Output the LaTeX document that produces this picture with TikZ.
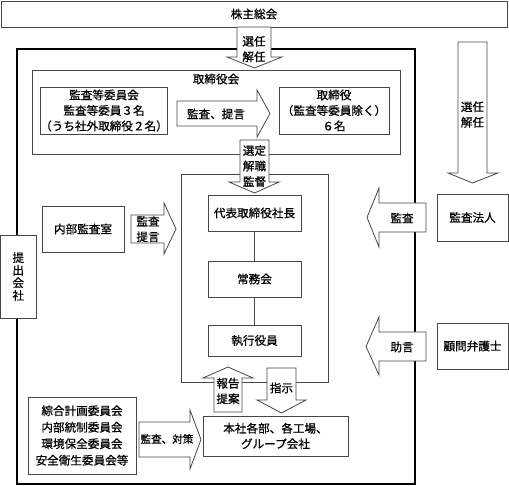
\documentclass[tikz,border=0pt]{standalone}
\usepackage{fontspec}
\setmainfont{Noto Sans CJK JP}[FakeBold=0.7]
\begin{document}
\begin{tikzpicture}[x=1pt,y=-1pt,
  every node/.style={font=\fontsize{11.6}{15.5}\selectfont, inner sep=0pt, align=center},
  box/.style={draw=black!72, line width=0.8pt, fill=white, inner sep=0pt},
  barrow/.style={draw=black!72, line width=0.8pt, fill=white, line join=miter},
  frame/.style={draw=black!72, line width=0.8pt},
  outer/.style={draw=black, line width=1.8pt},
  link/.style={draw=black!72, line width=0.8pt}]
\useasboundingbox (0,0) rectangle (509,486);
% outer company frame
\draw[outer] (17,49) rectangle (415,484);
% shareholders meeting
\node[box, minimum width=506pt, minimum height=26pt] (gm) at (254,14) {株主総会};
% board of directors
\node[box, minimum width=368pt, minimum height=84pt] (board) at (216,112) {};
\node (boardlbl) at (216,79) {取締役会};
\node[box, minimum width=126pt, minimum height=47pt] (audcom) at (104,110.5) {監査等委員会\\監査等委員３名\\（うち社外取締役２名）};
\node[box, minimum width=110pt, minimum height=47pt] (dirs) at (334,110.5) {取締役\\（監査等委員除く）\\６名};
% executive frame
\draw[frame] (181,174) rectangle (328,382);
\node[box, minimum width=93pt, minimum height=36pt] (ceo) at (254.5,213) {代表取締役社長};
\node[box, minimum width=93pt, minimum height=36pt] (jomu) at (254.5,279) {常務会};
\node[box, minimum width=93pt, minimum height=31pt] (exec) at (254.5,340.5) {執行役員};
\draw[link] (ceo) -- (jomu);
\draw[link] (jomu) -- (exec);
% left side
\node[box, minimum width=35.5pt, minimum height=83pt, font=\fontsize{11.6}{12.6}\selectfont] (teishutsu) at (18.25,276.5) {提\\出\\会\\社};
\node[box, minimum width=82pt, minimum height=46pt] (naibu) at (83,229) {内部監査室};
\node[box, minimum width=108pt, minimum height=77pt, font=\fontsize{11.6}{16.5}\selectfont] (iinkai) at (82,435.5) {綜合計画委員会\\内部統制委員会\\環境保全委員会\\安全衛生委員会等};
\node[box, minimum width=145pt, minimum height=40pt] (honsha) at (275.5,436) {本社各部、各工場、\\グループ会社};
% right side
\node[box, minimum width=71pt, minimum height=47pt] (hojin) at (472.5,217.5) {監査法人};
\node[box, minimum width=71pt, minimum height=46pt] (komon) at (472.5,346) {顧問弁護士};
% block arrows
% gm -> board
\draw[barrow] (237,27) -- (271,27) -- (271,57) -- (282,57) -- (254.5,68) -- (227,57) -- (237,57) -- cycle;
\node (t1) at (254,49) {選任\\解任};
% audcom -> dirs
\draw[barrow] (177,101) -- (257,101) -- (257,90) -- (270,113.5) -- (257,137) -- (257,126) -- (177,126) -- cycle;
\node (t2) at (216,114) {監査、提言};
% right side down arrow
\draw[barrow] (458,42) -- (487,42) -- (487,173) -- (498,173) -- (472.5,183) -- (448,173) -- (458,173) -- cycle;
\node (t3) at (472.5,114.5) {選任\\解任};
% board -> ceo
\draw[barrow] (240,140) -- (269,140) -- (269,182) -- (279,182) -- (254.5,193) -- (229,182) -- (240,182) -- cycle;
\node (t4) at (254.5,166) {選定\\解職\\監督};
% naibu -> frame
\draw[barrow] (131,215) -- (164,215) -- (164,203) -- (176,229) -- (164,254) -- (164,243) -- (131,243) -- cycle;
\node (t5) at (148,229) {監査\\提言};
% hojin -> frame
\draw[barrow] (426,203) -- (379,203) -- (379,188) -- (367,217.5) -- (379,247) -- (379,232) -- (426,232) -- cycle;
\node (t6) at (402,218) {監査};
% komon -> frame
\draw[barrow] (426,332) -- (379,332) -- (379,317) -- (366,346.5) -- (379,375) -- (379,361) -- (426,361) -- cycle;
\node (t7) at (402,347) {助言};
% honsha -> exec (report)
\draw[barrow] (214,412) -- (214,378) -- (203,378) -- (228,367) -- (253,378) -- (242,378) -- (242,412) -- cycle;
\node (t8) at (228,391) {報告\\提案};
% exec -> honsha (instruction)
\draw[barrow] (267,368) -- (296,368) -- (296,400) -- (306,400) -- (281.5,413) -- (257,400) -- (267,400) -- cycle;
\node (t9) at (281.5,388) {指示};
% iinkai -> honsha
\draw[barrow] (139,422) -- (190,422) -- (190,410) -- (201,439.5) -- (190,469) -- (190,457) -- (139,457) -- cycle;
\node[font=\fontsize{10.6}{14}\selectfont] (t10) at (167,439) {監査、対策};
\end{tikzpicture}
\end{document}
